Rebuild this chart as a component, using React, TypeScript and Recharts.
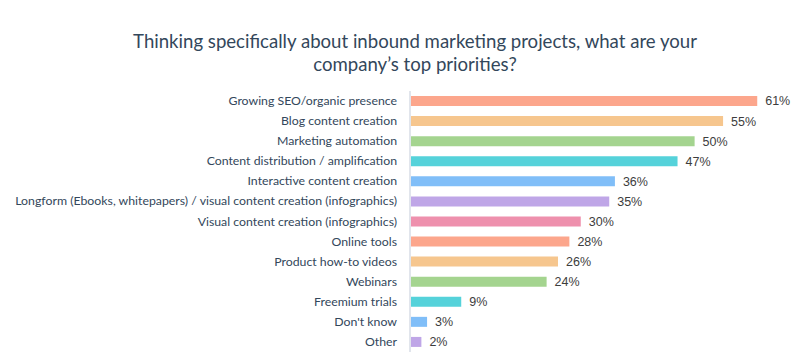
import React from "react";
import { BarChart, Bar, XAxis, YAxis, LabelList, Cell } from "recharts";

const categories = [
  "Growing SEO/organic presence",
  "Blog content creation",
  "Marketing automation",
  "Content distribution / amplification",
  "Interactive content creation",
  "Longform (Ebooks, whitepapers) / visual content creation (infographics)",
  "Visual content creation (infographics)",
  "Online tools",
  "Product how-to videos",
  "Webinars",
  "Freemium trials",
  "Don't know",
  "Other",
];
const values = [61, 55, 50, 47, 36, 35, 30, 28, 26, 24, 9, 3, 2];
const palette = ["#fca68c", "#f6c68e", "#a4d48f", "#55d2da", "#80bef8", "#bfa6e7", "#ee90ad"];
const titleLines = [
  "Thinking specifically about inbound marketing projects, what are your",
  "company’s top priorities?",
];

const data = categories.map((name, i) => ({ name, value: values[i] }));

const CatTick = (props: any) => {
  const { x, y, payload } = props;
  return (
    <text x={x} y={y} dy={4} textAnchor="end" fill="#33475b" fontSize={12.3} fontFamily="Lato, sans-serif">
      {payload.value}
    </text>
  );
};

export default function App() {
  return (
    <div style={{ position: "absolute", left: 0, top: 0, width: 800, height: 364, background: "#fff" }}>
      <div
        style={{
          position: "absolute",
          left: 15,
          width: 800,
          top: 30,
          textAlign: "center",
          fontFamily: "Lato, sans-serif",
          fontSize: 18.6,
          lineHeight: "23px",
          color: "#33475b",
        }}
      >
        {titleLines.map((t, i) => (
          <div key={i}>{t}</div>
        ))}
      </div>
      <BarChart
        width={800}
        height={364}
        data={data}
        layout="vertical"
        margin={{ top: 91, right: 20, bottom: 12, left: 0 }}
        barCategoryGap={5}
      >
        <XAxis type="number" domain={[0, 65]} hide />
        <YAxis
          type="category"
          dataKey="name"
          width={410}
          tickLine={false}
          axisLine={{ stroke: "#e1e5ec", strokeWidth: 2 }}
          tick={<CatTick />}
          tickMargin={7}
          interval={0}
        />
        <Bar dataKey="value" isAnimationActive={false} barSize={10}>
          {data.map((d, i) => (
            <Cell key={i} fill={palette[i % palette.length]} />
          ))}
          <LabelList
            dataKey="value"
            position="right"
            offset={8}
            formatter={(v: any) => `${v}%`}
            fill="#3d3d3d"
            fontSize={12.5}
            fontFamily="'Liberation Sans', Arial, sans-serif"
          />
        </Bar>
      </BarChart>
    </div>
  );
}
